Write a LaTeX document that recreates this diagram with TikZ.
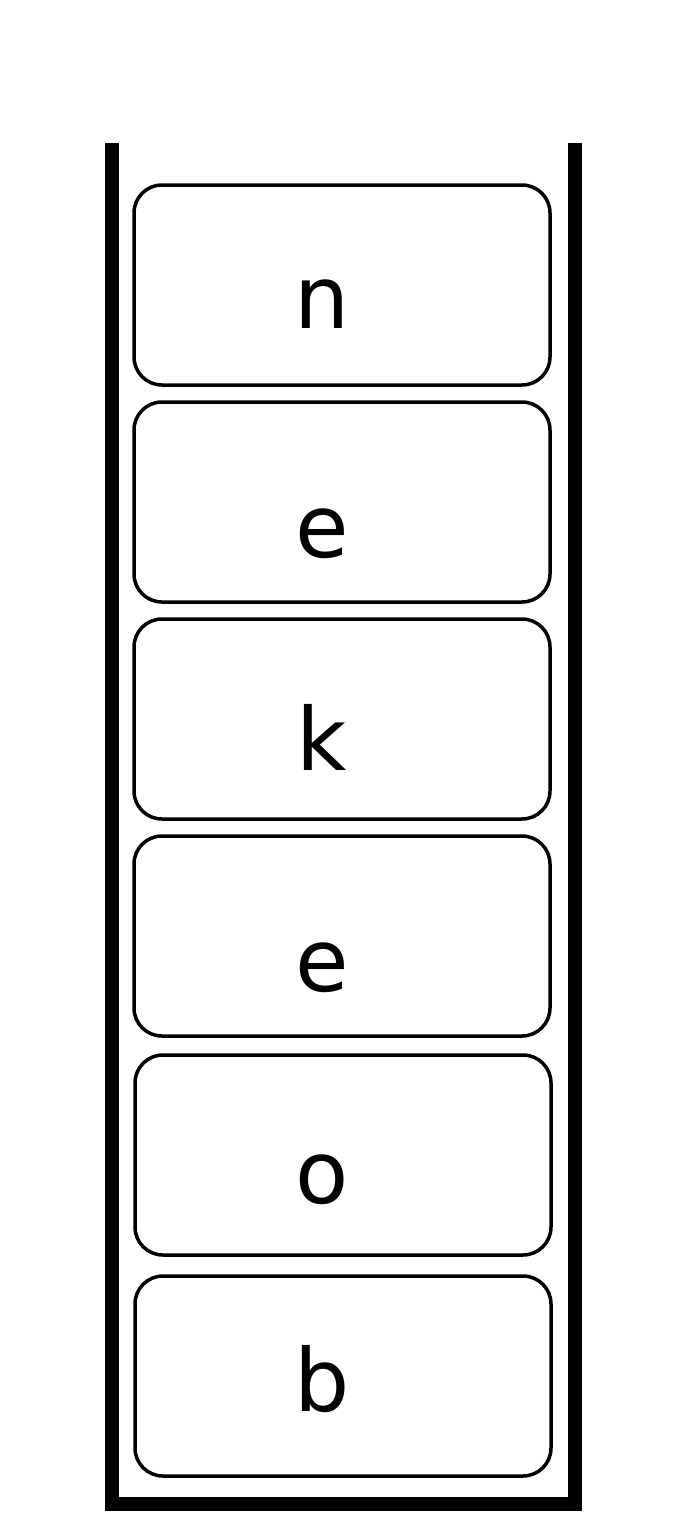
\documentclass[tikz,border=0pt]{standalone}
\usepackage{fontspec}
\setmainfont{DejaVu Sans}
\begin{document}
\begin{tikzpicture}[x=1pt,y=-1pt,
  slot/.style={draw=black,line width=3.5pt,rounded corners=28pt},
  letter/.style={anchor=base,inner sep=0pt,font=\fontsize{87}{100}\selectfont}]
\useasboundingbox (0,0) rectangle (688,1536);
\fill[white] (0,0) rectangle (688,1536);
\coordinate (tl) at (112,143);
\coordinate (tr) at (574.5,143);
\coordinate (bl) at (112,1504);
\coordinate (br) at (574.5,1504);
\draw[line width=14pt,line join=miter] (tl) -- (bl) -- (br) -- (tr);
\draw[slot] (134,185) rectangle (550,385);
\draw[slot] (134,402) rectangle (550,602);
\draw[slot] (134,619) rectangle (550,819);
\draw[slot] (134,836) rectangle (550,1036);
\draw[slot] (135,1055) rectangle (551,1255);
\draw[slot] (135,1276) rectangle (551,1476);
\node[letter] (t1) at (322,328) {n};
\node[letter] (t2) at (322,557) {e};
\node[letter] (t3) at (322,770) {k};
\node[letter] (t4) at (322,991) {e};
\node[letter] (t5) at (322,1203) {o};
\node[letter] (t6) at (322,1411) {b};
\end{tikzpicture}
\end{document}
